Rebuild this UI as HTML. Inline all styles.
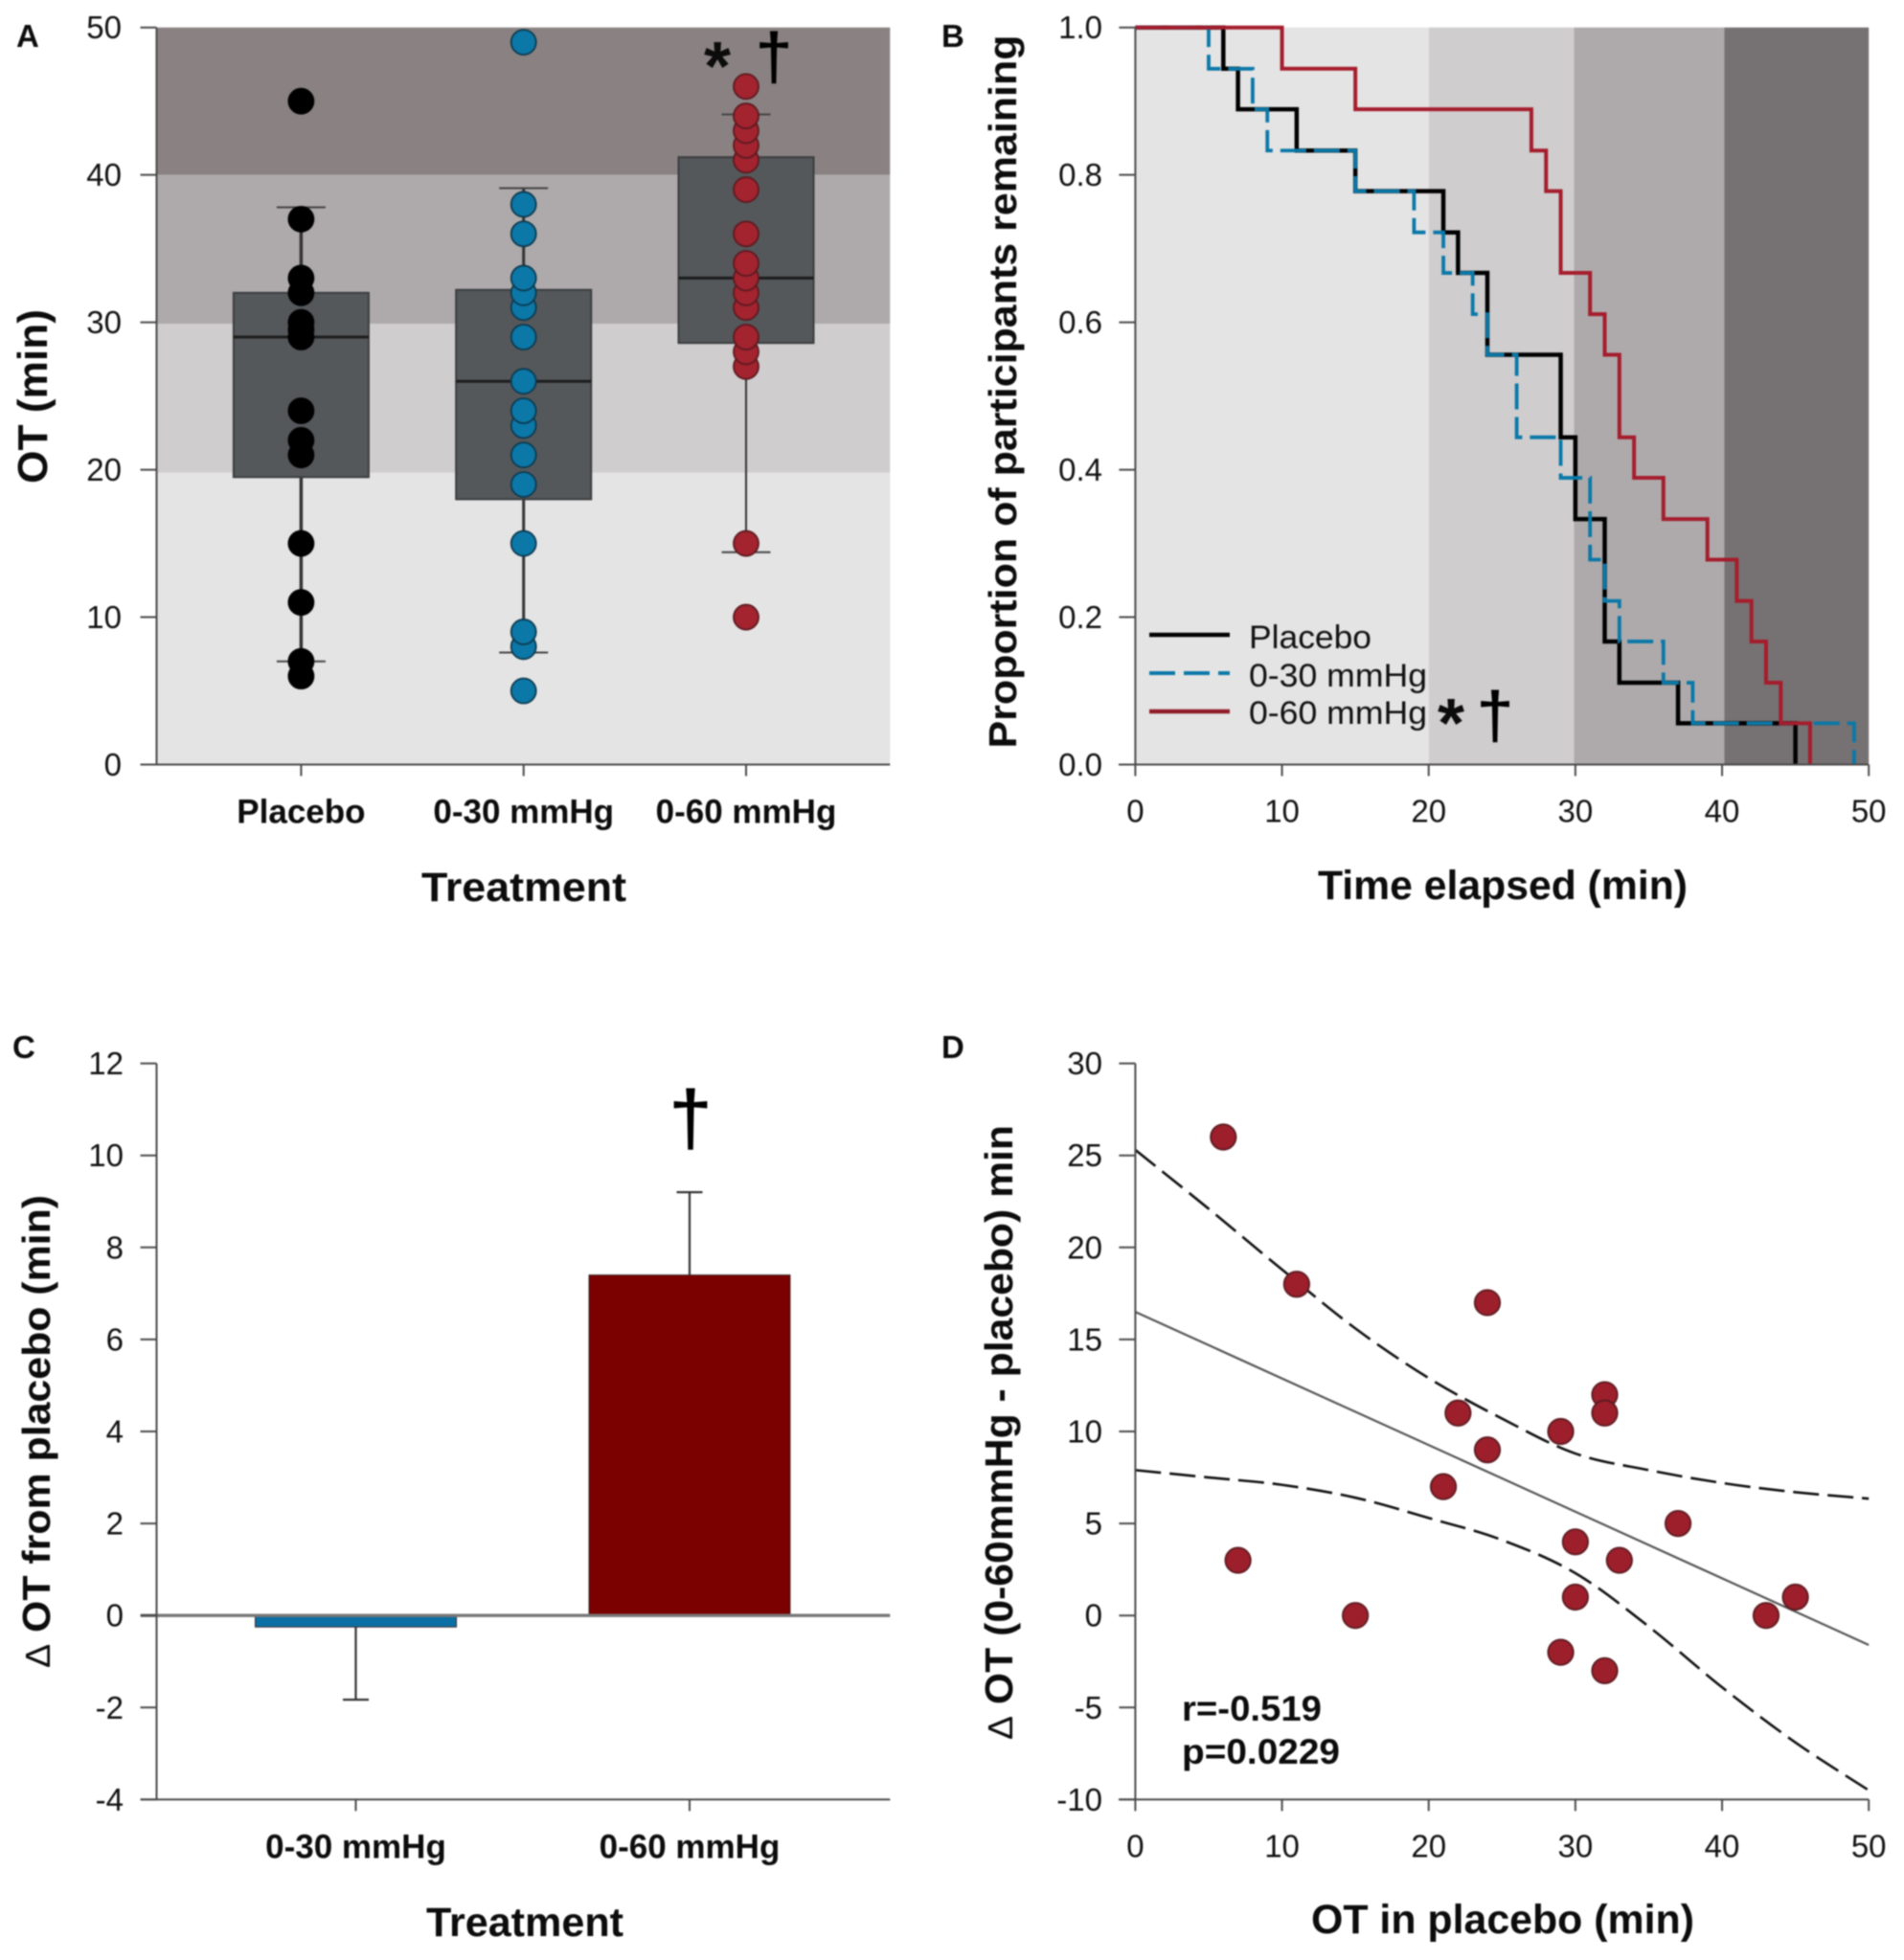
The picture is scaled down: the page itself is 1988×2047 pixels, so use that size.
<!DOCTYPE html>
<html lang="en">
<head>
<meta charset="utf-8">
<title>OT treatment figure</title>
<style>
html,body{margin:0;padding:0;background:#fff;width:1988px;height:2047px;overflow:hidden}
svg{display:block;filter:blur(0.7px)}
text{font-family:"Liberation Sans",sans-serif;fill:#111}
.b{font-weight:700;fill:#0c0c0c}
.d{fill:#000;stroke:#000;stroke-width:1}
</style>
</head>
<body>
<svg id="figure" xmlns="http://www.w3.org/2000/svg" width="1988" height="2047" viewBox="0 0 1988 2047">
  <rect x="0" y="0" width="1988" height="2047" fill="#fff"/>
  <g id="panelA"></g>
  <g id="panelB"></g>
  <g id="panelC"></g>
  <g id="panelD"></g>

  <text class="b" x="17" y="49" font-size="33">A</text>
  <text class="b" x="983" y="49" font-size="33">B</text>
  <text class="b" x="13" y="1105" font-size="33">C</text>
  <text class="b" x="983" y="1105" font-size="33">D</text>

  <text class="b" font-size="44" text-anchor="middle" transform="translate(49,414) rotate(-90)" textLength="182" lengthAdjust="spacingAndGlyphs">OT (min)</text>
  <text class="b" font-size="43" text-anchor="middle" x="547" y="941" textLength="214" lengthAdjust="spacingAndGlyphs">Treatment</text>
  <text class="b" font-size="72" text-anchor="middle" x="749" y="94">*</text>
  <text class="d" font-size="68" text-anchor="middle" x="808" y="82">†</text>

  <text class="b" font-size="41" text-anchor="middle" transform="translate(1061,409) rotate(-90)" textLength="745" lengthAdjust="spacingAndGlyphs">Proportion of participants remaining</text>
  <text class="b" font-size="43" text-anchor="middle" x="1569" y="939" textLength="386" lengthAdjust="spacingAndGlyphs">Time elapsed (min)</text>

  <g>
    <line x1="1200" x2="1284" y1="663" y2="663" stroke="#000" stroke-width="4.5"/>
    <text x="1304" y="677" font-size="34" textLength="128" lengthAdjust="spacingAndGlyphs">Placebo</text>
    <line x1="1200" x2="1284" y1="703" y2="703" stroke="#0a78a8" stroke-width="4" stroke-dasharray="27 9"/>
    <text x="1304" y="717" font-size="34" textLength="186" lengthAdjust="spacingAndGlyphs">0-30 mmHg</text>
    <line x1="1200" x2="1284" y1="743" y2="743" stroke="#8f1c28" stroke-width="4.5"/>
    <text x="1304" y="756" font-size="34" textLength="186" lengthAdjust="spacingAndGlyphs">0-60 mmHg</text>
    <text class="b" font-size="72" text-anchor="middle" x="1515" y="780">*</text>
    <text class="d" font-size="68" text-anchor="middle" x="1561" y="770">†</text>
  </g>

  <text class="b" font-size="41" text-anchor="middle" transform="translate(52,1495) rotate(-90)" textLength="494" lengthAdjust="spacingAndGlyphs"><tspan font-weight="400" font-size="36">Δ</tspan> OT from placebo (min)</text>
  <text class="b" font-size="43" text-anchor="middle" x="548" y="2022" textLength="206" lengthAdjust="spacingAndGlyphs">Treatment</text>
  <text class="d" font-size="80" text-anchor="middle" x="721" y="1195">†</text>

  <text class="b" font-size="41" text-anchor="middle" transform="translate(1057,1496) rotate(-90)" textLength="642" lengthAdjust="spacingAndGlyphs"><tspan font-weight="400" font-size="36">Δ</tspan> OT (0-60mmHg - placebo) min</text>
  <text class="b" font-size="43" text-anchor="middle" x="1569" y="2019" textLength="400" lengthAdjust="spacingAndGlyphs">OT in placebo (min)</text>
  <text class="b" font-size="37" x="1234" y="1797" textLength="146" lengthAdjust="spacingAndGlyphs">r=-0.519</text>
  <text class="b" font-size="37" x="1234" y="1842" textLength="165" lengthAdjust="spacingAndGlyphs">p=0.0229</text>
</svg>

<script>
// ---------- Panel A data ----------
const boxCategories = ['Placebo', '0-30 mmHg', '0-60 mmHg'];
const boxQ1 = [19.5, 18, 28.6];
const boxMedian = [29, 26, 33];
const boxQ3 = [32, 32.2, 41.2];
const whiskerLow = [7, 7.6, 14.4];
const whiskerHigh = [37.8, 39.1, 44.1];
const placeboOT = [45, 37, 33, 32, 30, 29.5, 29, 24, 22, 21, 15, 11, 7, 6];
const mid30OT = [49, 38, 36, 33, 32, 31, 29, 26, 24, 23, 21, 19, 15, 9, 8, 5];
const high60OT = [46, 44, 43, 42, 41, 39, 36, 34, 33, 32, 31, 29, 28, 27, 15, 10];
const aBandEdges = [0, 19.8, 29.9, 40, 50];
const aYTicks = [0, 10, 20, 30, 40, 50];

// ---------- Panel B data ----------
const placeboTimes = [6, 7, 11, 15, 21, 22, 24, 29, 30, 32, 33, 37, 45];
const placeboRemaining = [0.944, 0.889, 0.833, 0.778, 0.722, 0.667, 0.556, 0.444, 0.333, 0.167, 0.111, 0.056, 0];
const mid30Times = [5, 8, 9, 15, 19, 21, 23, 24, 26, 29, 31, 32, 33, 36, 38, 49];
const mid30Remaining = [0.944, 0.889, 0.833, 0.778, 0.722, 0.667, 0.611, 0.556, 0.444, 0.389, 0.278, 0.222, 0.167, 0.111, 0.056, 0];
const high60Times = [10, 15, 27, 28, 29, 31, 32, 33, 34, 36, 39, 41, 42, 43, 44, 46];
const high60Remaining = [0.944, 0.889, 0.833, 0.778, 0.667, 0.611, 0.556, 0.444, 0.389, 0.333, 0.278, 0.222, 0.167, 0.111, 0.056, 0];
const bBandEdges = [0, 20, 29.9, 40.15, 50];
const bXTicks = [0, 10, 20, 30, 40, 50];
const bYTicks = [0, 0.2, 0.4, 0.6, 0.8, 1];
const bYTickLabels = ['0.0', '0.2', '0.4', '0.6', '0.8', '1.0'];

// ---------- Panel C data ----------
const barCategories = ['0-30 mmHg', '0-60 mmHg'];
const barValues = [-0.25, 7.4];
const barErrorEnds = [-1.83, 9.2];
const cYTicks = [-4, -2, 0, 2, 4, 6, 8, 10, 12];

// ---------- Panel D data ----------
const scatterX = [6, 11, 24, 32, 32, 22, 29, 24, 21, 37, 30, 33, 7, 30, 45, 15, 43, 29, 32];
const scatterY = [26, 18, 17, 12, 11, 11, 10, 9, 7, 5, 4, 3, 3, 1, 1, 0, 0, -2, -3];
const fitX = [0, 50];
const fitY = [16.5, -1.6];
const upperBandX = [0, 5, 10, 15, 20, 25, 30, 35, 40, 45, 50];
const upperBandY = [25.3, 22.1, 18.8, 15.6, 12.9, 10.7, 8.8, 7.9, 7.2, 6.7, 6.35];
const lowerBandX = [0, 5, 10, 15, 20, 25, 30, 35, 40, 45, 50];
const lowerBandY = [7.9, 7.5, 7.1, 6.4, 5.3, 4.1, 2.3, -0.6, -3.9, -6.9, -9.5];
const dXTicks = [0, 10, 20, 30, 40, 50];
const dYTicks = [-10, -5, 0, 5, 10, 15, 20, 25, 30];

// ---------- Helpers ----------
const NS = 'http://www.w3.org/2000/svg';
function mk(parent, tag, props, text) {
  const el = document.createElementNS(NS, tag);
  for (const k in props) el.setAttribute(k, props[k]);
  if (text !== undefined) el.textContent = text;
  parent.appendChild(el);
  return el;
}
function linear(d0, d1, r0, r1) {
  return function (v) { return r0 + (v - d0) * (r1 - r0) / (d1 - d0); };
}
const AXIS = '#4a4a4a';

function drawYAxis(g, y, ticks, labels, axisX, labelX, top, bottom) {
  const spine = mk(g, 'line', {x1: axisX, x2: axisX, y1: top, y2: bottom, stroke: AXIS, 'stroke-width': 2});
  
  
  ticks.forEach(function (t, i) {
    const tick = mk(g, 'line', {x1: axisX - 17, x2: axisX, y1: y(t), y2: y(t), stroke: AXIS, 'stroke-width': 2});
    
    
    const lab = mk(g, 'text', {x: labelX, y: y(t) + 11.5, 'font-size': 33, 'text-anchor': 'end'}, labels[i]);
    
    
  });
}
function drawXAxis(g, x, ticks, labels, axisY, left, right, bold) {
  const spine = mk(g, 'line', {x1: left, x2: right, y1: axisY, y2: axisY, stroke: AXIS, 'stroke-width': 2});
  
  
  ticks.forEach(function (t, i) {
    const tick = mk(g, 'line', {x1: x(t), x2: x(t), y1: axisY, y2: axisY + 12, stroke: AXIS, 'stroke-width': 2});
    
    
    const props = {x: x(t), y: axisY + (bold ? 61 : 60), 'font-size': bold ? 35 : 33, 'text-anchor': 'middle'};
    if (bold) props['class'] = 'b';
    const lab = mk(g, 'text', props, labels[i]);
    
    
  });
}
// Smooth curve passing through every data point (Catmull-Rom)
function smoothPath(xs, ys, x, y) {
  const P = xs.map(function (v, i) { return [x(v), y(ys[i])]; });
  let d = 'M' + P[0][0] + ' ' + P[0][1];
  for (let i = 0; i < P.length - 1; i++) {
    const p0 = P[Math.max(i - 1, 0)], p1 = P[i], p2 = P[i + 1], p3 = P[Math.min(i + 2, P.length - 1)];
    d += ' C' + (p1[0] + (p2[0] - p0[0]) / 6) + ' ' + (p1[1] + (p2[1] - p0[1]) / 6) + ' ' +
         (p2[0] - (p3[0] - p1[0]) / 6) + ' ' + (p2[1] - (p3[1] - p1[1]) / 6) + ' ' + p2[0] + ' ' + p2[1];
  }
  return d;
}

// ---------- Panel A ----------
(function () {
  const g = document.getElementById('panelA');
  const L = 163.5, R = 929.3, T = 28.7, B = 798.5;
  const y = linear(0, 50, B, T);
  const xSlot = linear(0, 2, 314.4, 779);
  const bandColors = ['#e5e4e4', '#cfcdce', '#aeaaab', '#8a8282'];
  bandColors.forEach(function (c, i) {
    const band = mk(g, 'rect', {x: L, y: y(aBandEdges[i + 1]), width: R - L, height: y(aBandEdges[i]) - y(aBandEdges[i + 1]), fill: c});
    
    
  });
  const series = [placeboOT, mid30OT, high60OT];
  const fills = ['#000000', '#0b78a8', '#a3232f'];
  const edges = ['#000000', '#0d3a50', '#5c1a20'];
  const whiskerWidths = [3.5, 3, 2];
  boxCategories.forEach(function (cat, i) {
    const cx = xSlot(i);
    const hw = 70.5, capW = 25.5;
    const w1 = mk(g, 'line', {x1: cx, x2: cx, y1: y(whiskerHigh[i]), y2: y(whiskerLow[i]), stroke: '#333', 'stroke-width': whiskerWidths[i]});
    
    
    [whiskerHigh[i], whiskerLow[i]].forEach(function (v) {
      const cap = mk(g, 'line', {x1: cx - capW, x2: cx + capW, y1: y(v), y2: y(v), stroke: '#444', 'stroke-width': 2});
      
      
    });
    const box = mk(g, 'rect', {x: cx - hw, y: y(boxQ3[i]), width: hw * 2, height: y(boxQ1[i]) - y(boxQ3[i]), fill: '#55585b', stroke: '#3a3c3e', 'stroke-width': 2});
    
    
    const med = mk(g, 'line', {x1: cx - hw, x2: cx + hw, y1: y(boxMedian[i]), y2: y(boxMedian[i]), stroke: '#1c1c1c', 'stroke-width': 3});
    
    
    series[i].slice().reverse().forEach(function (v) {
      const pt = mk(g, 'circle', {cx: cx, cy: y(v), r: 13, fill: fills[i], stroke: edges[i], 'stroke-width': 1.8});
      
      
    });
  });
  drawYAxis(g, y, aYTicks, aYTicks.map(String), L, 127, T, B);
  drawXAxis(g, xSlot, [0, 1, 2], boxCategories, B, 147, R, true);
})();

// ---------- Panel B ----------
(function () {
  const g = document.getElementById('panelB');
  const L = 1185.4, R = 1951.2, T = 28.7, B = 798.5;
  const x = linear(0, 50, L, R);
  const y = linear(0, 1, B, T);
  const bandColors = ['#e5e4e4', '#cfcdce', '#aeaaab', '#767172'];
  bandColors.forEach(function (c, i) {
    const band = mk(g, 'rect', {x: x(bBandEdges[i]), y: T, width: x(bBandEdges[i + 1]) - x(bBandEdges[i]), height: B - T, fill: c});
    
    
  });
  function stepPoints(times, vals) {
    let pts = x(0) + ',' + y(1);
    let prev = 1;
    times.forEach(function (t, i) {
      pts += ' ' + x(t) + ',' + y(prev) + ' ' + x(t) + ',' + y(vals[i]);
      prev = vals[i];
    });
    return pts;
  }
  const c1 = mk(g, 'polyline', {points: stepPoints(placeboTimes, placeboRemaining), fill: 'none', stroke: '#000', 'stroke-width': 4.5});
  
  
  const c2 = mk(g, 'polyline', {points: stepPoints(mid30Times, mid30Remaining), fill: 'none', stroke: '#0a78a8', 'stroke-width': 3.8, 'stroke-dasharray': '27 8'});
  
  
  const c3 = mk(g, 'polyline', {points: stepPoints(high60Times, high60Remaining), fill: 'none', stroke: '#a51d2d', 'stroke-width': 4});
  
  
  drawYAxis(g, y, bYTicks, bYTickLabels, L, 1151, T, B);
  drawXAxis(g, x, bXTicks, bXTicks.map(String), B, 1168, R, false);
})();

// ---------- Panel C ----------
(function () {
  const g = document.getElementById('panelC');
  const L = 163.5, R = 929.3, T = 1110.6, B = 1879.4;
  const y = linear(-4, 12, B, T);
  const xSlot = linear(0, 1, 371.5, 720);
  const colors = ['#0a6fa5', '#7b0000'];
  barCategories.forEach(function (cat, i) {
    const cx = xSlot(i), hw = 105, capW = 13.5;
    const err = mk(g, 'line', {x1: cx, x2: cx, y1: y(barValues[i]), y2: y(barErrorEnds[i]), stroke: '#333', 'stroke-width': 2.2});
    
    
    const cap = mk(g, 'line', {x1: cx - capW, x2: cx + capW, y1: y(barErrorEnds[i]), y2: y(barErrorEnds[i]), stroke: '#333', 'stroke-width': 2.2});
    
    
    const top = Math.min(y(0), y(barValues[i]));
    const h = Math.abs(y(0) - y(barValues[i]));
    const bar = mk(g, 'rect', {x: cx - hw, y: top, width: hw * 2, height: h, fill: colors[i], stroke: '#3a2a2a', 'stroke-width': 1});
    
    
  });
  const zero = mk(g, 'line', {x1: 147, x2: R, y1: y(0), y2: y(0), stroke: '#777', 'stroke-width': 3.4});
  
  
  drawYAxis(g, y, cYTicks, cYTicks.map(String), L, 129, T, B);
  drawXAxis(g, xSlot, [0, 1], barCategories, B, 147, R, true);
})();

// ---------- Panel D ----------
(function () {
  const g = document.getElementById('panelD');
  const L = 1185.4, R = 1951.2, T = 1110.6, B = 1879.4;
  const x = linear(0, 50, L, R);
  const y = linear(-10, 30, B, T);
  const fit = mk(g, 'path', {d: smoothPath(fitX, fitY, x, y), fill: 'none', stroke: '#555', 'stroke-width': 2.2});
  
  
  const up = mk(g, 'path', {d: smoothPath(upperBandX, upperBandY, x, y), fill: 'none', stroke: '#111', 'stroke-width': 2.6, 'stroke-dasharray': '27 9'});
  
  
  const lo = mk(g, 'path', {d: smoothPath(lowerBandX, lowerBandY, x, y), fill: 'none', stroke: '#111', 'stroke-width': 2.6, 'stroke-dasharray': '27 9'});
  
  
  drawYAxis(g, y, dYTicks, dYTicks.map(String), L, 1151, T, B);
  drawXAxis(g, x, dXTicks, dXTicks.map(String), B, 1168, R, false);
  scatterX.forEach(function (v, i) {
    const pt = mk(g, 'circle', {cx: x(v), cy: y(scatterY[i]), r: 13.2, fill: '#9c1f2b', stroke: '#5c1a20', 'stroke-width': 1.8});
    
    
  });
})();
</script>
</body>
</html>
